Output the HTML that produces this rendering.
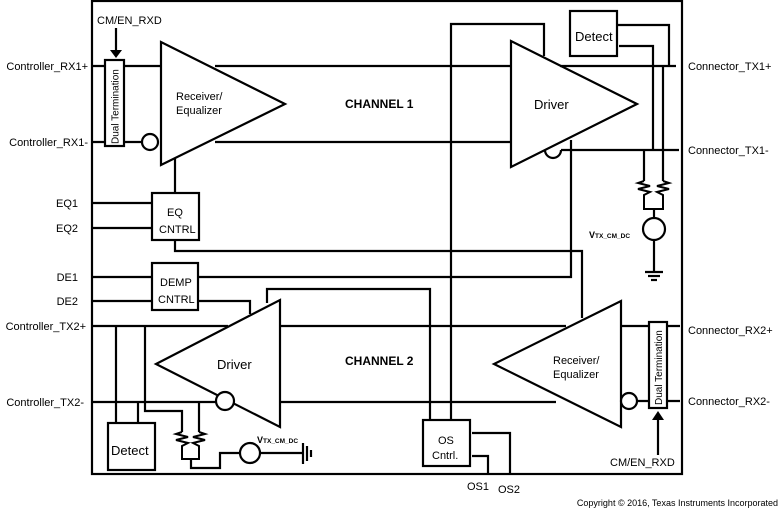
<!DOCTYPE html>
<html><head><style>body{margin:0;background:#fff}svg{display:block}text{font-family:"Liberation Sans",sans-serif;fill:#000}</style></head><body>
<svg width="780" height="509" viewBox="0 0 780 509" xmlns="http://www.w3.org/2000/svg">
<g fill="none" stroke="#000" stroke-width="2.2">
<rect x="92" y="1" width="590" height="473"/>
<line x1="92" y1="66" x2="161" y2="66"/>
<line x1="92" y1="142" x2="142" y2="142"/>
<rect x="105" y="60" width="19" height="86" fill="#fff"/>
<line x1="116" y1="28" x2="116" y2="50"/>
<circle cx="150" cy="142" r="8" fill="#fff"/>
<polygon points="161,42 161,165 285,104" fill="#fff"/>
<line x1="215" y1="66" x2="511" y2="66"/>
<line x1="215" y1="142" x2="511" y2="142"/>
<line x1="175" y1="158" x2="175" y2="193"/>
<rect x="152" y="193" width="47" height="47"/>
<line x1="92" y1="203" x2="152" y2="203"/>
<line x1="92" y1="228" x2="152" y2="228"/>
<polyline points="175,240 175,251 582,251 582,318"/>
<polyline points="451,420 451,24 544,24 544,56"/>
<polyline points="571,140 571,277 198,277"/>
<polygon points="511,41 511,167 637,104" fill="#fff"/>
<path d="M545,150 A8,8 0 0 0 561,150" />
<line x1="561" y1="150" x2="679" y2="150"/>
<line x1="560" y1="66" x2="676" y2="66"/>
<rect x="570" y="11" width="47" height="45"/>
<polyline points="617,25 669,25 669,66"/>
<polyline points="619,46 653,46 653,150"/>
<line x1="644" y1="150" x2="644" y2="181"/>
<line x1="663" y1="66" x2="663" y2="181"/>
<polyline points="644,181 638,183 650,186 638,189 650,192 644,195 644,209 663,209 663,195 657,192 669,189 657,186 669,183 663,181" stroke-width="2"/>
<line x1="654" y1="209" x2="654" y2="218"/>
<circle cx="654" cy="229" r="11"/>
<line x1="654" y1="240" x2="654" y2="272"/>
<line x1="645" y1="272" x2="663" y2="272"/>
<line x1="648" y1="276" x2="660" y2="276"/>
<line x1="651" y1="280" x2="657" y2="280"/>
<rect x="152" y="263" width="46" height="47"/>
<line x1="92" y1="277" x2="152" y2="277"/>
<line x1="92" y1="301" x2="152" y2="301"/>
<polyline points="198,301 250,301 250,314"/>
<polyline points="267,303 267,289 430,289 430,420"/>
<line x1="92" y1="326" x2="228" y2="326"/>
<line x1="92" y1="402" x2="216" y2="402"/>
<polygon points="280,300 280,427 156,364" fill="#fff"/>
<circle cx="225" cy="401" r="9" fill="#fff"/>
<line x1="280" y1="326" x2="566" y2="326"/>
<line x1="280" y1="402" x2="556" y2="402"/>
<polygon points="621,301 621,427 494,364" fill="#fff"/>
<circle cx="629" cy="401" r="8" fill="#fff"/>
<line x1="621" y1="326" x2="680" y2="326"/>
<line x1="637" y1="401" x2="680" y2="401"/>
<rect x="649" y="322" width="18" height="86" fill="#fff"/>
<line x1="658" y1="455" x2="658" y2="420"/>
<line x1="116" y1="326" x2="116" y2="423"/>
<line x1="138" y1="402" x2="138" y2="423"/>
<rect x="108" y="423" width="47" height="47"/>
<polyline points="145,326 145,411 182,411 182,432"/>
<line x1="199" y1="402" x2="199" y2="432"/>
<polyline points="182,432 176,434 188,437 176,440 188,443 182,446 182,459 199,459 199,446 193,443 205,440 193,437 205,434 199,432" stroke-width="2"/>
<polyline points="191,459 191,468 220,468 220,453 240,453"/>
<circle cx="250" cy="453" r="10"/>
<line x1="260" y1="453" x2="303" y2="453"/>
<line x1="303" y1="443" x2="303" y2="464"/>
<line x1="307" y1="446" x2="307" y2="461"/>
<line x1="311" y1="450" x2="311" y2="457"/>
<rect x="423" y="420" width="47" height="46"/>
<polyline points="472,433 510,433 510,474"/>
<polyline points="472,456 488,456 488,474"/>
</g>
<polygon points="110,50 122,50 116,58" fill="#000"/>
<polygon points="652,420 664,420 658,411" fill="#000"/>
<g font-size="11">
<text x="88" y="70" text-anchor="end">Controller_RX1+</text>
<text x="88" y="146" text-anchor="end">Controller_RX1-</text>
<text x="78" y="207" text-anchor="end">EQ1</text>
<text x="78" y="232" text-anchor="end">EQ2</text>
<text x="78" y="281" text-anchor="end">DE1</text>
<text x="78" y="305" text-anchor="end">DE2</text>
<text x="86" y="330" text-anchor="end">Controller_TX2+</text>
<text x="84" y="406" text-anchor="end">Controller_TX2-</text>
<text x="688" y="70">Connector_TX1+</text>
<text x="688" y="154">Connector_TX1-</text>
<text x="688" y="334">Connector_RX2+</text>
<text x="688" y="405">Connector_RX2-</text>
<text x="97" y="24">CM/EN_RXD</text>
<text x="610" y="466">CM/EN_RXD</text>
<text x="176" y="100">Receiver/</text>
<text x="176" y="114">Equalizer</text>
<text x="553" y="364">Receiver/</text>
<text x="553" y="378">Equalizer</text>
<text x="534" y="109" font-size="13">Driver</text>
<text x="217" y="369" font-size="13">Driver</text>
<text x="575" y="41" font-size="13">Detect</text>
<text x="111" y="455" font-size="13">Detect</text>
<text x="167" y="216">EQ</text>
<text x="159" y="233">CNTRL</text>
<text x="160" y="286">DEMP</text>
<text x="158" y="303">CNTRL</text>
<text x="438" y="444">OS</text>
<text x="432" y="459">Cntrl.</text>
<text x="467" y="490">OS1</text>
<text x="498" y="493">OS2</text>
<text x="345" y="108" font-weight="bold" font-size="12">CHANNEL 1</text>
<text x="345" y="365" font-weight="bold" font-size="12">CHANNEL 2</text>
<text x="589" y="238" font-weight="bold" font-size="9">V<tspan font-size="6.5">TX_CM_DC</tspan></text>
<text x="257" y="443" font-weight="bold" font-size="9">V<tspan font-size="6.5">TX_CM_DC</tspan></text>
<text x="778" y="506" text-anchor="end" font-size="9">Copyright © 2016, Texas Instruments Incorporated</text>
<text transform="translate(118.5,144) rotate(-90)" font-size="10">Dual Termination</text>
<text transform="translate(662,405) rotate(-90)" font-size="10">Dual Termination</text>
</g>
</svg>
</body></html>
